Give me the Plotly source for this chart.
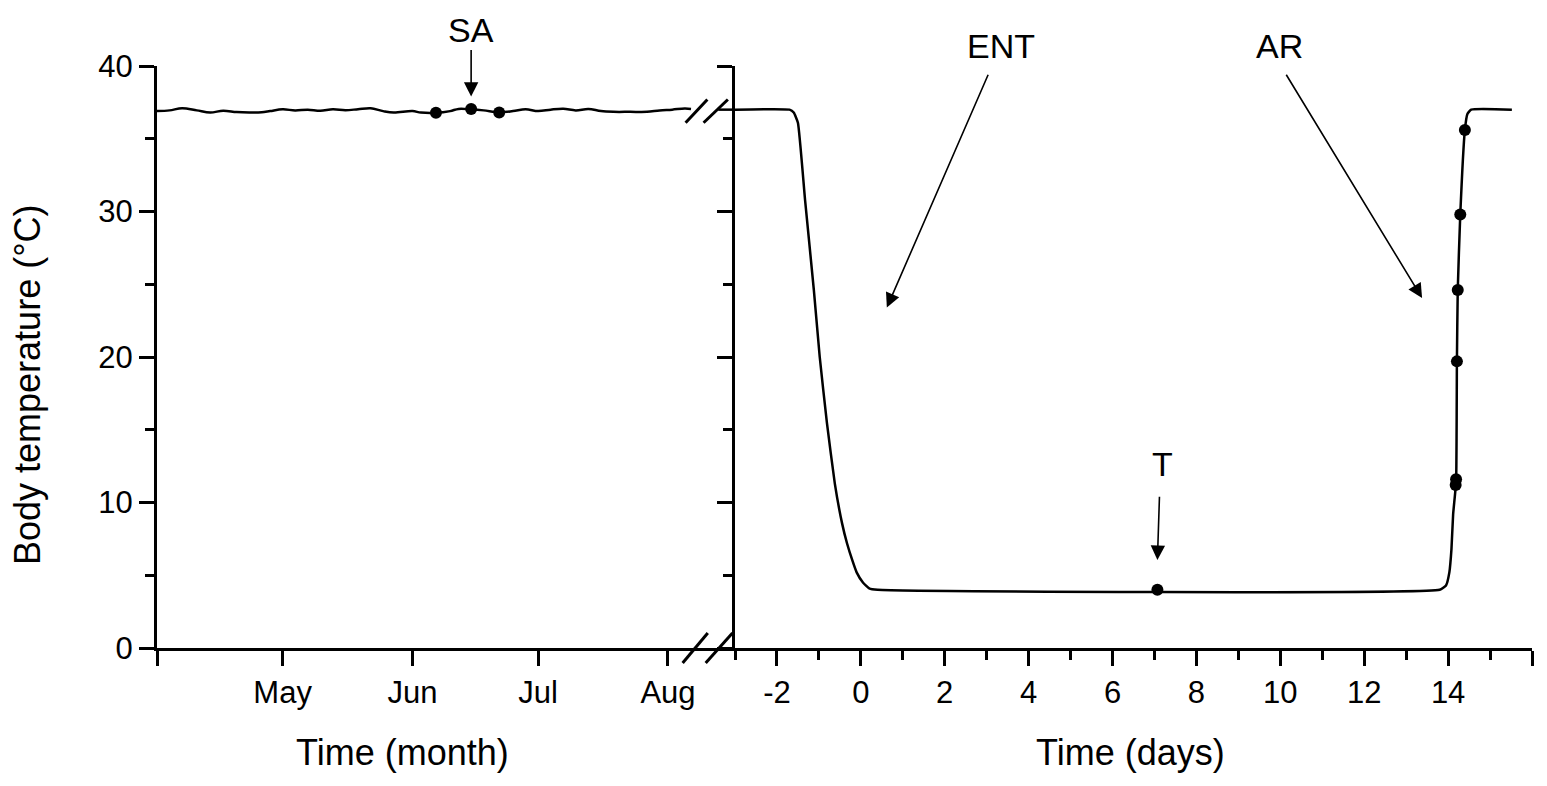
import plotly.graph_objects as go

# ---------------- data ----------------
# Left panel: days since 1 April (month axis)
month_tick_vals = [0, 30, 61, 91, 122]
month_tick_text = ["", "May", "Jun", "Jul", "Aug"]

left_days = [0, 3, 6, 9.5, 12.7, 15.8, 19, 22, 25, 27, 30, 33, 36, 39, 42, 45, 48,
             51, 54, 56.5, 61, 63, 66.6, 70, 72, 75, 78, 81.7, 85, 88, 91, 94, 97,
             100, 103, 106, 109, 113, 117, 120, 123, 126, 127.5]
left_temp = [36.9, 36.95, 37.1, 36.95, 36.8, 36.93, 36.83, 36.8, 36.82, 36.9, 37.02,
             36.95, 37.0, 36.93, 37.02, 36.96, 37.03, 37.1, 36.9, 36.8, 36.9, 36.8,
             36.78, 36.9, 37.05, 37.02, 36.95, 36.82, 36.9, 37.02, 36.9, 37.0, 37.06,
             36.95, 37.05, 36.9, 36.85, 36.85, 36.85, 36.95, 37.0, 37.08, 37.05]
left_tail_days = [134, 138]
left_tail_temp = [37.0, 37.0]

sa_days = [66.6, 75.0, 81.7]
sa_temp = [36.78, 37.05, 36.8]

# Right panel: days
day_tick_vals = [-2, 0, 2, 4, 6, 8, 10, 12, 14, 16]
day_tick_text = ["-2", "0", "2", "4", "6", "8", "10", "12", "14", ""]
day_minor_vals = [-3, -1, 1, 3, 5, 7, 9, 11, 13, 15]

right_days = [-3, -1.7, -1.6, -1.5, -1.33, -1.12, -0.98, -0.81, -0.62, -0.45, -0.33,
              -0.2, -0.1, 0.05, 0.2, 0.4, 13.8, 13.95, 14.03, 14.08, 14.12, 14.19,
              14.21, 14.23, 14.29, 14.40, 14.46, 14.55, 15.52]
right_temp = [37.0, 37.0, 36.8, 36.1, 30.8, 24.6, 20.0, 15.5, 11.3, 8.6, 7.2,
              6.0, 5.2, 4.5, 4.1, 4.0, 4.0, 4.3, 5.2, 6.8, 9.2, 11.4,
              19.7, 24.6, 29.8, 35.6, 36.7, 37.0, 37.0]

pt_days = [7.07, 14.18, 14.19, 14.21, 14.23, 14.29, 14.40]
pt_temp = [4.0, 11.2, 11.6, 19.7, 24.6, 29.8, 35.6]

y_tick_vals = [0, 10, 20, 30, 40]
y_minor_vals = [5, 15, 25, 35]

# ---------------- layout geometry ----------------
OFF = 8                      # browser body margin
W, H = 1547 - 2 * OFF, 786 - 2 * OFF

def PX(px):
    return (px - OFF) / W

def PY(py):
    return 1 - (py - OFF) / H

LX0, LX1, RX1 = PX(157), PX(735), PX(1532)
Y0, Y1 = PY(648), PY(66)
LRANGE = [0, 138]
RRANGE = [-3, 16]
YRANGE = [0, 40]

FONT = "Arial, Liberation Sans, sans-serif"
TICKF = dict(family=FONT, size=31, color="black")

def ypaper(yd):
    return Y0 + (yd - YRANGE[0]) / (YRANGE[1] - YRANGE[0]) * (Y1 - Y0)

def lpaper(xd, yd):
    return LX0 + (xd - LRANGE[0]) / (LRANGE[1] - LRANGE[0]) * (LX1 - LX0), ypaper(yd)

def rpaper(xd, yd):
    return LX1 + (xd - RRANGE[0]) / (RRANGE[1] - RRANGE[0]) * (RX1 - LX1), ypaper(yd)

fig = go.Figure()
line_style = dict(color="black", width=2.5)
fig.add_trace(go.Scatter(x=left_days, y=left_temp, mode="lines", line=dict(shape="spline", smoothing=1.0, **line_style),
                         xaxis="x", yaxis="y", cliponaxis=False))
fig.add_trace(go.Scatter(x=left_tail_days, y=left_tail_temp, mode="lines", line=line_style,
                         xaxis="x", yaxis="y", cliponaxis=False))
fig.add_trace(go.Scatter(x=sa_days, y=sa_temp, mode="markers", marker=dict(color="black", size=12),
                         xaxis="x", yaxis="y", cliponaxis=False))
fig.add_trace(go.Scatter(x=right_days, y=right_temp, mode="lines", line=dict(shape="spline", smoothing=0.4, **line_style),
                         xaxis="x2", yaxis="y2", cliponaxis=False))
fig.add_trace(go.Scatter(x=pt_days, y=pt_temp, mode="markers", marker=dict(color="black", size=12),
                         xaxis="x2", yaxis="y2", cliponaxis=False))

axis_common = dict(showgrid=False, zeroline=False, showline=True, linecolor="black", linewidth=3,
                   ticks="outside", tickcolor="black", tickwidth=2.5, ticklen=15,
                   tickfont=TICKF, automargin=False)
minor_common = dict(ticks="outside", ticklen=9, tickwidth=2.5, tickcolor="black")

fig.update_layout(
    width=W, height=H, template="none", showlegend=False,
    paper_bgcolor="white", plot_bgcolor="white",
    margin=dict(l=0, r=0, t=0, b=0),
    xaxis=dict(domain=[LX0, LX1], range=LRANGE, anchor="y", tickmode="array",
               tickvals=month_tick_vals, ticktext=month_tick_text, **axis_common),
    yaxis=dict(domain=[Y0, Y1], range=YRANGE, anchor="x", tickmode="array", tickvals=y_tick_vals,
               minor=dict(tickvals=y_minor_vals, **minor_common), **axis_common),
    xaxis2=dict(domain=[LX1, RX1], range=RRANGE, anchor="y2", tickmode="array",
                tickvals=day_tick_vals, ticktext=day_tick_text,
                minor=dict(tickvals=day_minor_vals, **minor_common), **axis_common),
    yaxis2=dict(domain=[Y0, Y1], range=YRANGE, anchor="x2", tickmode="array", tickvals=y_tick_vals,
                showticklabels=False, minor=dict(tickvals=y_minor_vals, **minor_common), **axis_common),
)

# break marks (axis decoration)
shapes = []
for (x0, y0, x1, y1) in [(125.5, -1.03, 131.5, 1.03), (131.0, -1.03, 137.4, 1.03),
                         (126.2, 36.1, 131.4, 37.7), (130.5, 36.1, 136.3, 37.7)]:
    a = lpaper(x0, y0)
    b = lpaper(x1, y1)
    shapes.append(dict(type="line", xref="paper", yref="paper", x0=a[0], y0=a[1], x1=b[0], y1=b[1],
                       line=dict(color="black", width=3)))
fig.update_layout(shapes=shapes)

ann = []
txt = dict(family=FONT, size=34, color="black")

def label(pos, text):
    return dict(x=pos[0], y=pos[1], xref="paper", yref="paper", text=text, showarrow=False,
                font=txt, xanchor="center", yanchor="middle")

ann.append(label(lpaper(75.0, 42.5), "SA"))
ann.append(label(rpaper(3.33, 41.4), "ENT"))
ann.append(label(rpaper(9.98, 41.4), "AR"))
ann.append(label(rpaper(7.19, 12.65), "T"))

def arrow(xref, yref, tail, tip):
    return dict(x=tip[0], y=tip[1], ax=tail[0], ay=tail[1], xref=xref, yref=yref,
                axref=xref, ayref=yref, text="", showarrow=True, arrowhead=2,
                arrowsize=1.8, arrowwidth=1.6, arrowcolor="black", standoff=0, startstandoff=0)

ann.append(arrow("x", "y", (75.0, 41.2), (75.0, 37.9)))
ann.append(arrow("x2", "y2", (3.05, 39.5), (0.62, 23.4)))
ann.append(arrow("x2", "y2", (10.12, 39.5), (13.38, 24.05)))
ann.append(arrow("x2", "y2", (7.12, 10.5), (7.07, 6.05)))

tfont = dict(family=FONT, size=36, color="black")
ann.append(dict(x=PX(402), y=PY(752), xref="paper", yref="paper", text="Time (month)", showarrow=False,
                font=tfont, xanchor="center", yanchor="middle"))
ann.append(dict(x=PX(1130), y=PY(752), xref="paper", yref="paper", text="Time (days)", showarrow=False,
                font=tfont, xanchor="center", yanchor="middle"))
ann.append(dict(x=PX(27), y=PY(385), xref="paper", yref="paper", text="Body temperature (°C)", textangle=-90,
                showarrow=False, font=tfont, xanchor="center", yanchor="middle"))
fig.update_layout(annotations=ann)

fig.write_html("out.html")
